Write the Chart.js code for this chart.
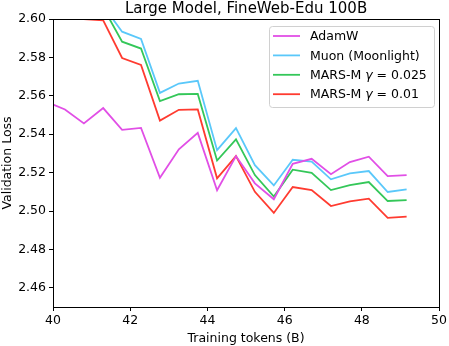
<!DOCTYPE html>
<html>
<head>
<meta charset="utf-8">
<script src="https://cdn.jsdelivr.net/npm/chart.js@4.4.0/dist/chart.umd.min.js"></script>
<style>
    html, body { margin: 0; padding: 0; background: #fff; }
    canvas { display: block; }
</style>
</head>
<body>
<canvas id="lossChart" width="449" height="346"></canvas>
<script>
const tokens = [39.82, 40.31, 40.80, 41.30, 41.79, 42.28, 42.77, 43.26, 43.75, 44.25,
    44.74, 45.23, 45.72, 46.21, 46.70, 47.20, 47.69, 48.18, 48.67, 49.16];
const adamw = [2.5569, 2.5529, 2.5456, 2.5536, 2.5423, 2.5433, 2.5173, 2.5321, 2.5407, 2.5108,
    2.5286, 2.5144, 2.5061, 2.5246, 2.5272, 2.5192, 2.5255, 2.5283, 2.5182, 2.5187];
const muon = [2.640, 2.630, 2.620, 2.6068, 2.5934, 2.5896, 2.5615, 2.5664, 2.5678, 2.5317,
    2.5432, 2.5239, 2.5133, 2.5267, 2.5257, 2.5165, 2.5196, 2.5208, 2.5099, 2.5113];
const marsM025 = [2.632, 2.622, 2.613, 2.6059, 2.5882, 2.5846, 2.5572, 2.5608, 2.5610, 2.5263,
    2.5373, 2.5187, 2.5075, 2.5215, 2.5199, 2.5109, 2.5135, 2.5151, 2.5052, 2.5057];
const marsM01 = [2.615, 2.608, 2.5999, 2.5993, 2.5797, 2.5761, 2.5471, 2.5527, 2.5529, 2.5170,
    2.5286, 2.5100, 2.4990, 2.5125, 2.5109, 2.5026, 2.5050, 2.5064, 2.4964, 2.4971];
const xTicks = [40, 42, 44, 46, 48, 50];
const yTicks = [2.46, 2.48, 2.50, 2.52, 2.54, 2.56, 2.58, 2.60];

const FONT = 'DejaVu Sans';
const toPoints = ys => ys.map((y, i) => ({ x: tokens[i], y }));

// label parts: [text, italic?]
const series = [
    { label: 'AdamW', parts: [['AdamW', false]], data: adamw, color: '#e14fe6' },
    { label: 'Muon (Moonlight)', parts: [['Muon (Moonlight)', false]], data: muon, color: '#5ac8fa' },
    { label: 'MARS-M γ = 0.025', parts: [['MARS-M ', false], ['γ', true], [' = 0.025', false]], data: marsM025, color: '#34c759' },
    { label: 'MARS-M γ = 0.01', parts: [['MARS-M ', false], ['γ', true], [' = 0.01', false]], data: marsM01, color: '#ff3b30' }
];

// matplotlib-like frame, title and legend box
const decor = {
    id: 'decor',
    afterDraw(chart) {
        const { ctx, chartArea: a } = chart;
        ctx.save();
        ctx.strokeStyle = '#000';
        ctx.lineWidth = 1;
        ctx.strokeRect(Math.round(a.left) + 0.5, Math.round(a.top) + 0.5,
            Math.round(a.right - a.left), Math.round(a.bottom - a.top));

        ctx.fillStyle = '#000';
        ctx.font = `15px "${FONT}"`;
        ctx.textAlign = 'center';
        ctx.textBaseline = 'middle';
        ctx.fillText('Large Model, FineWeb-Edu 100B', (a.left + a.right) / 2, 9);

        // legend
        const lx = 269, ly = 26, lw = 165, lh = 81;
        ctx.fillStyle = 'rgba(255,255,255,0.8)';
        ctx.strokeStyle = '#d0d0d0';
        ctx.beginPath();
        ctx.roundRect(lx + 0.5, ly + 0.5, lw, lh, 3);
        ctx.fill();
        ctx.stroke();
        ctx.textAlign = 'left';
        series.forEach((s, i) => {
            const y = 36 + i * 19.4;
            ctx.strokeStyle = s.color;
            ctx.lineWidth = 1.8;
            ctx.beginPath();
            ctx.moveTo(273, y);
            ctx.lineTo(300, y);
            ctx.stroke();
            ctx.fillStyle = '#000';
            let x = 310;
            s.parts.forEach(([text, italic]) => {
                ctx.font = `${italic ? 'italic ' : ''}12.5px "${FONT}"`;
                ctx.fillText(text, x, y + 1);
                x += ctx.measureText(text).width;
            });
        });
        ctx.restore();
    }
};

new Chart(document.getElementById('lossChart'), {
    type: 'line',
    data: {
        datasets: series.map(s => ({
            label: s.label,
            data: toPoints(s.data),
            borderColor: s.color,
            backgroundColor: s.color,
            borderWidth: 1.8,
            pointRadius: 0,
            tension: 0,
            fill: false
        }))
    },
    options: {
        responsive: false,
        animation: false,
        devicePixelRatio: 1,
        layout: { padding: { top: 19, right: 8, left: 0, bottom: 0 } },
        plugins: { legend: { display: false }, tooltip: { enabled: false } },
        scales: {
            x: {
                type: 'linear',
                min: 40,
                max: 50,
                afterBuildTicks: scale => { scale.ticks = xTicks.map(v => ({ value: v })); },
                afterFit: scale => { scale.height = 39; },
                grid: { drawOnChartArea: false, drawTicks: true, tickLength: 4, color: '#000' },
                border: { display: true, color: '#000' },
                ticks: { color: '#000', font: { family: FONT, size: 12.5 }, padding: 2, maxRotation: 0 },
                title: { display: true, text: 'Training tokens (B)', color: '#000', font: { family: FONT, size: 12.5 }, padding: { top: 0, bottom: 0 } }
            },
            y: {
                type: 'linear',
                min: 2.45,
                max: 2.60,
                afterBuildTicks: scale => { scale.ticks = yTicks.map(v => ({ value: v })); },
                afterFit: scale => { scale.width = 53; },
                grid: { drawOnChartArea: false, drawTicks: true, tickLength: 4, color: '#000' },
                border: { display: true, color: '#000' },
                ticks: { color: '#000', font: { family: FONT, size: 12.5 }, padding: 3, callback: v => v.toFixed(2) },
                title: { display: true, text: 'Validation Loss', color: '#000', font: { family: FONT, size: 12.5 }, padding: { top: 0, bottom: 1 } }
            }
        }
    },
    plugins: [decor]
});
</script>
</body>
</html>
